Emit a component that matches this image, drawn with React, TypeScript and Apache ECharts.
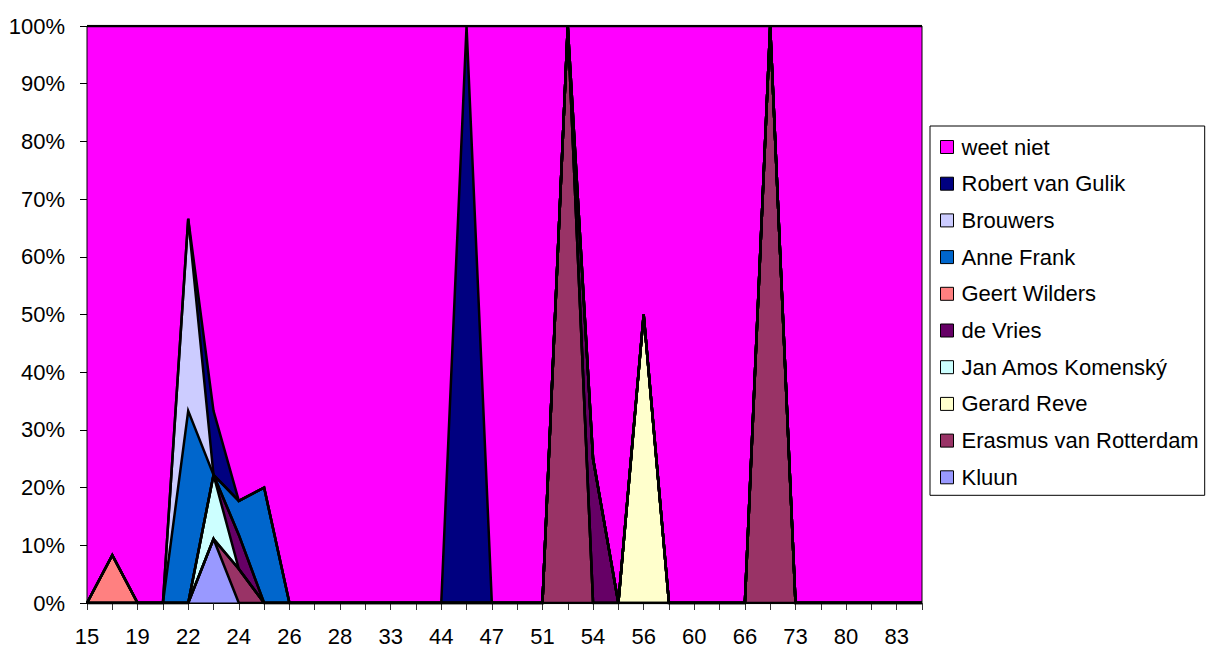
import React, { useEffect, useRef } from "react";
import * as echarts from "echarts";

const categories = [
  "15", "17", "19", "21", "22", "23", "24", "25", "26", "27", "28", "30", "33", "40", "44", "45", "47",
  "50", "51", "52", "54", "55", "56", "58", "60", "63", "66", "70", "73", "75", "80", "82", "83", "85",
];

// values in % (stacked to 100)
const kluun =     [0, 0, 0, 0, 0, 11.1, 0, 0, 0, 0, 0, 0, 0, 0, 0, 0, 0, 0, 0, 0, 0, 0, 0, 0, 0, 0, 0, 0, 0, 0, 0, 0, 0, 0];
const erasmus =   [0, 0, 0, 0, 0, 0, 5.9, 0, 0, 0, 0, 0, 0, 0, 0, 0, 0, 0, 0, 100, 0, 0, 0, 0, 0, 0, 0, 100, 0, 0, 0, 0, 0, 0];
const gerardReve = [0, 0, 0, 0, 0, 0, 0, 0, 0, 0, 0, 0, 0, 0, 0, 0, 0, 0, 0, 0, 0, 0, 50, 0, 0, 0, 0, 0, 0, 0, 0, 0, 0, 0];
const janAmos =   [0, 0, 0, 0, 0, 11.1, 0, 0, 0, 0, 0, 0, 0, 0, 0, 0, 0, 0, 0, 0, 0, 0, 0, 0, 0, 0, 0, 0, 0, 0, 0, 0, 0, 0];
const deVries =   [0, 0, 0, 0, 0, 0, 5.9, 0, 0, 0, 0, 0, 0, 0, 0, 0, 0, 0, 0, 0, 25, 0, 0, 0, 0, 0, 0, 0, 0, 0, 0, 0, 0, 0];
const geertWilders = [0, 8.3, 0, 0, 0, 0, 0, 0, 0, 0, 0, 0, 0, 0, 0, 0, 0, 0, 0, 0, 0, 0, 0, 0, 0, 0, 0, 0, 0, 0, 0, 0, 0, 0];
const anneFrank = [0, 0, 0, 0, 33.3, 0, 5.9, 20, 0, 0, 0, 0, 0, 0, 0, 0, 0, 0, 0, 0, 0, 0, 0, 0, 0, 0, 0, 0, 0, 0, 0, 0, 0, 0];
const brouwers =  [0, 0, 0, 0, 33.3, 0, 0, 0, 0, 0, 0, 0, 0, 0, 0, 0, 0, 0, 0, 0, 0, 0, 0, 0, 0, 0, 0, 0, 0, 0, 0, 0, 0, 0];
const robertVanGulik = [0, 0, 0, 0, 0, 11.1, 0, 0, 0, 0, 0, 0, 0, 0, 0, 100, 0, 0, 0, 0, 0, 0, 0, 0, 0, 0, 0, 0, 0, 0, 0, 0, 0, 0];
const weetNiet =  [100, 91.7, 100, 100, 33.4, 66.7, 82.3, 80, 100, 100, 100, 100, 100, 100, 100, 0, 100, 100, 100, 0, 75, 100, 50, 100, 100, 100, 100, 0, 100, 100, 100, 100, 100, 100];

const yTicks = [0, 10, 20, 30, 40, 50, 60, 70, 80, 90, 100];

// bottom-to-top stacking order
const seriesDefs = [
  { name: "Kluun", data: kluun, color: "#9999FF" },
  { name: "Erasmus van Rotterdam", data: erasmus, color: "#993366" },
  { name: "Gerard Reve", data: gerardReve, color: "#FFFFCC" },
  { name: "Jan Amos Komenský", data: janAmos, color: "#CCFFFF" },
  { name: "de Vries", data: deVries, color: "#660066" },
  { name: "Geert Wilders", data: geertWilders, color: "#FF8080" },
  { name: "Anne Frank", data: anneFrank, color: "#0066CC" },
  { name: "Brouwers", data: brouwers, color: "#CCCCFF" },
  { name: "Robert van Gulik", data: robertVanGulik, color: "#000080" },
  { name: "weet niet", data: weetNiet, color: "#FF00FF" },
];

const FONT = "'Liberation Sans', Arial, sans-serif";

export default function App() {
  const ref = useRef<HTMLDivElement>(null);
  useEffect(() => {
    if (!ref.current) return;
    const chart = echarts.init(ref.current, undefined, { renderer: "svg" });
    const gl = 87, gt = 26, gw = 835, gh = 577;
    const areaSeries = seriesDefs.map((s) => ({
      name: s.name,
      type: "line",
      stack: "area",
      data: s.data,
      showSymbol: false,
      symbol: "none",
      silent: true,
      z: 2,
      itemStyle: { color: s.color },
      lineStyle: { width: 0, color: s.color },
      areaStyle: { color: s.color, opacity: 1 },
    }));
    const lineSeries = seriesDefs.map((s, i) => ({
      name: "_border" + i,
      type: "line",
      stack: "border",
      data: s.data,
      showSymbol: false,
      symbol: "none",
      silent: true,
      z: 3,
      lineStyle: { width: 2.5, color: "#000", join: "miter" },
    }));
    chart.setOption({
      animation: false,
      backgroundColor: "#fff",
      textStyle: { fontFamily: FONT },
      grid: { left: gl, top: gt, width: gw, height: gh, containLabel: false, outerBoundsMode: "none" },
      xAxis: {
        type: "category",
        data: categories,
        boundaryGap: false,
        axisLine: { show: true, lineStyle: { color: "#000", width: 1 } },
        axisTick: { show: true, interval: 0, length: 7, lineStyle: { color: "#333" } },
        axisLabel: { interval: 1, margin: 22, fontSize: 22, color: "#000", fontFamily: FONT },
        splitLine: { show: false },
      },
      yAxis: {
        type: "value",
        min: yTicks[0],
        max: yTicks[yTicks.length - 1],
        interval: 10,
        axisLine: { show: true, lineStyle: { color: "#000", width: 1 } },
        axisTick: { show: true, length: 7, lineStyle: { color: "#000" } },
        axisLabel: { formatter: "{value}%", margin: 22, fontSize: 22, color: "#000", fontFamily: FONT },
        splitLine: { show: false },
      },
      legend: {
        orient: "vertical",
        left: 930,
        top: 126,
        backgroundColor: "#fff",
        borderColor: "#000",
        borderWidth: 1,
        borderRadius: 0,
        padding: [10, 6, 7, 10],
        itemGap: 14.7,
        itemWidth: 13,
        itemHeight: 13,
        icon: "rect",
        selectedMode: false,
        itemStyle: { borderColor: "#000", borderWidth: 1 },
        textStyle: { fontSize: 22, color: "#000", fontFamily: FONT, lineHeight: 22, padding: [0, 0, 0, 3] },
        data: seriesDefs.map((s) => s.name).reverse(),
      },
      graphic: [
        {
          type: "rect",
          z: 100,
          silent: true,
          shape: { x: gl, y: gt, width: gw, height: gh },
          style: { fill: "none", stroke: "#000", lineWidth: 1 },
        },
      ],
      series: [...areaSeries, ...lineSeries],
    });
    return () => chart.dispose();
  }, []);
  return (
    <div
      ref={ref}
      style={{ position: "absolute", left: 0, top: 0, width: 1218, height: 651, background: "#fff" }}
    />
  );
}
